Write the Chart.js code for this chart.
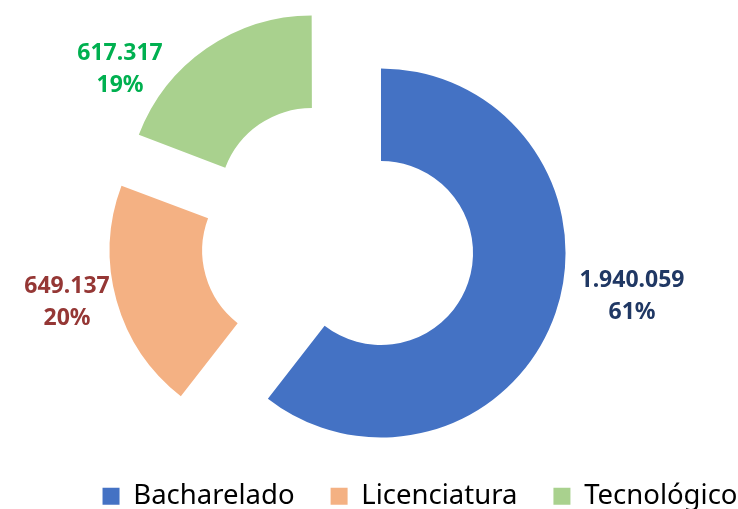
<!DOCTYPE html>
<html>
<head>
<meta charset="utf-8">
<script src="https://cdn.jsdelivr.net/npm/chart.js@4/dist/chart.umd.min.js"></script>
<style>
  body { margin: 0; background: #fff; }
  #wrap { width: 738px; height: 509px; }
</style>
</head>
<body>
<div id="wrap"><canvas id="grauChart" width="738" height="509"></canvas></div>
<script>
// data
const categories = ['Bacharelado', 'Licenciatura', 'Tecnológico'];
const matriculas = [1940059, 649137, 617317];

const sliceColors = ['#4472C4', '#F4B183', '#A9D18E'];
const labelColors = ['#203864', '#953735', '#00B050'];
const NONE = 'rgba(0,0,0,0)';
// where each value label sits, relative to the pie centre
const labelOffsets = [[294, 58], [-271, 64], [-218, -169]];

function fmtThousands(n) {
    return String(n).replace(/\B(?=(\d{3})+(?!\d))/g, '.');
}

// value + percent labels next to each slice
const sliceLabels = {
    id: 'sliceLabels',
    afterDatasetsDraw(chart) {
        const ctx = chart.ctx;
        const c = chart.getDatasetMeta(0).data[0];
        const total = matriculas.reduce((a, b) => a + b, 0);
        ctx.save();
        ctx.font = 'bold 23px "Noto Sans"';
        ctx.textAlign = 'center';
        ctx.textBaseline = 'middle';
        matriculas.forEach((v, i) => {
            const x = c.x + labelOffsets[i][0];
            const y = c.y + labelOffsets[i][1];
            ctx.fillStyle = labelColors[i];
            ctx.fillText(fmtThousands(v), x, y - 16);
            ctx.fillText(Math.round(v / total * 100) + '%', x, y + 16);
        });
        ctx.restore();
    }
};

// pie sits left of centre and the legend right of centre in the original
const nudge = {
    id: 'nudge',
    afterLayout(chart) {
        const area = chart.chartArea;
        area.left -= 31; area.right -= 31;
        const lg = chart.legend;
        lg.left += 51; lg.right += 51;
        lg.top += 11; lg.bottom += 11;
    }
};

// Chart.js v4 grows an exploded arc's radius by offset/4 when the slice is
// wider than 180deg, so the big slice gets its own ring to keep all three
// slices the same size. Arcs move out by offset/4.
new Chart(document.getElementById('grauChart'), {
    type: 'doughnut',
    data: {
        labels: categories,
        datasets: [{
            data: matriculas,
            backgroundColor: [NONE, sliceColors[1], sliceColors[2]],
            weight: 2,
            radius: 182.5,
            cutout: '23.973%',
            borderWidth: 0,
            offset: 182,
            hoverOffset: 0
        }, {
            data: matriculas,
            backgroundColor: [sliceColors[0], NONE, NONE],
            weight: 1,
            radius: 324,
            cutout: '14.352%',
            rotation: -2.267,
            circumference: 367.5,
            borderWidth: 0,
            offset: 182,
            hoverOffset: 0
        }]
    },
    options: {
        responsive: false,
        animation: false,
        events: [],
        layout: { padding: { top: 41, right: 0, left: 0, bottom: 0 } },
        plugins: {
            legend: {
                position: 'bottom',
                labels: {
                    boxWidth: 17,
                    boxHeight: 17,
                    padding: 36,
                    color: '#000',
                    font: { family: '"Noto Sans"', size: 27.5 },
                    generateLabels(chart) {
                        const items = Chart.overrides.doughnut.plugins.legend.labels.generateLabels(chart);
                        items.forEach((it, i) => {
                            it.fillStyle = sliceColors[i];
                            it.strokeStyle = sliceColors[i];
                            it.lineWidth = 0;
                        });
                        return items;
                    }
                }
            },
            tooltip: { enabled: false }
        }
    },
    plugins: [sliceLabels, nudge]
});
</script>
</body>
</html>
